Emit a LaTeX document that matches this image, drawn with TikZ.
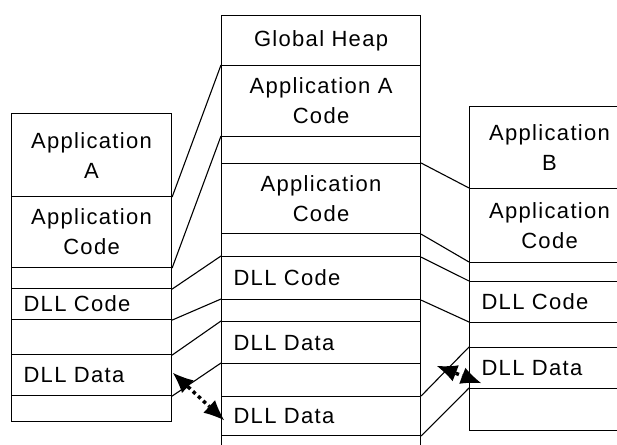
\documentclass[tikz,border=0pt]{standalone}
\usepackage{fontspec}
\setmainfont{Liberation Sans}[LetterSpace=6]
\usetikzlibrary{arrows.meta,calc}

\tikzset{
  seg/.style={draw=black, line width=1.1pt, rectangle, anchor=north west,
    inner sep=0pt, align=center, font=\fontsize{22}{30}\selectfont},
  segl/.style={seg, align=left, inner xsep=12pt},
  link/.style={draw=black, line width=1.1pt},
  dotarrow/.style={line width=3.5pt, dash pattern=on 3.5pt off 3.5pt,
    {Latex[length=20pt,width=17pt,line width=0pt]}-{Latex[length=20pt,width=17pt,line width=0pt]}}
}

\begin{document}
\begin{tikzpicture}[x=1pt,y=-1pt]
  \fill[white] (0,0) rectangle (617,444);
  \path[use as bounding box, clip] (0,0) rectangle (617,444);

  % Application A address space
  \node[seg, minimum width=160pt, minimum height=83pt, text width=160pt] (la1) at (11,113) {Application\\A};
  \node[seg, minimum width=160pt, minimum height=71pt, text width=160pt] (la2) at (11,196) {Application\\Code};
  \node[seg, minimum width=160pt, minimum height=21pt] (la3) at (11,267) {};
  \node[segl, minimum width=160pt, minimum height=31pt, text width=136pt] (la4) at (11,288) {DLL Code};
  \node[seg, minimum width=160pt, minimum height=35pt] (la5) at (11,319) {};
  \node[segl, minimum width=160pt, minimum height=41pt, text width=136pt] (la6) at (11,354) {DLL Data};
  \node[seg, minimum width=160pt, minimum height=26pt] (la7) at (11,395) {};

  % Global heap
  \node[seg, minimum width=199pt, minimum height=50pt, text width=199pt] (m1) at (221,15) {Global Heap};
  \node[seg, minimum width=199pt, minimum height=71pt, text width=199pt] (m2) at (221,65) {Application A\\Code};
  \node[seg, minimum width=199pt, minimum height=27pt] (m3) at (221,136) {};
  \node[seg, minimum width=199pt, minimum height=70pt, text width=199pt] (m4) at (221,163) {Application\\Code};
  \node[seg, minimum width=199pt, minimum height=23pt] (m5) at (221,233) {};
  \node[segl, minimum width=199pt, minimum height=43pt, text width=175pt] (m6) at (221,256) {DLL Code};
  \node[seg, minimum width=199pt, minimum height=22pt] (m7) at (221,299) {};
  \node[segl, minimum width=199pt, minimum height=42pt, text width=175pt] (m8) at (221,321) {DLL Data};
  \node[seg, minimum width=199pt, minimum height=33pt] (m9) at (221,363) {};
  \node[segl, minimum width=199pt, minimum height=39pt, text width=175pt] (m10) at (221,396) {DLL Data};
  \node[seg, minimum width=199pt, minimum height=30pt] (m11) at (221,435) {};

  % Application B address space
  \node[seg, minimum width=160pt, minimum height=82pt, text width=160pt] (rb1) at (469,106) {Application\\B};
  \node[seg, minimum width=160pt, minimum height=74pt, text width=160pt] (rb2) at (469,188) {Application\\Code};
  \node[seg, minimum width=160pt, minimum height=19pt] (rb3) at (469,262) {};
  \node[segl, minimum width=160pt, minimum height=41pt, text width=136pt] (rb4) at (469,281) {DLL Code};
  \node[seg, minimum width=160pt, minimum height=25pt] (rb5) at (469,322) {};
  \node[segl, minimum width=160pt, minimum height=41pt, text width=136pt] (rb6) at (469,347) {DLL Data};
  \node[seg, minimum width=160pt, minimum height=42pt] (rb7) at (469,388) {};

  % mappings from Application A into the heap
  \draw[link] (la1.south east) -- (m2.north west);
  \draw[link] (la2.south east) -- (m3.north west);
  \draw[link] (la3.south east) -- (m6.north west);
  \draw[link] (la4.south east) -- (m7.north west);
  \draw[link] (la5.south east) -- (m8.north west);
  \draw[link] (la6.south east) -- (m9.north west);

  % mappings from the heap into Application B
  \draw[link] (m4.north east) -- (rb2.north west);
  \draw[link] (m4.south east) -- (rb3.north west);
  \draw[link] (m5.south east) -- (rb4.north west);
  \draw[link] (m6.south east) -- (rb5.north west);
  \draw[link] (m10.north east) -- (rb6.north west);
  \draw[link] (m10.south east) -- (rb7.north west);

  % per-process DLL data copies
  \coordinate (pa) at ($(la6.east)+(1,-2)$);
  \coordinate (pb) at ($(m10.west)+(3,4)$);
  \draw[dotarrow] (pa) -- (pb);
  \coordinate (qa) at (437,366);
  \coordinate (qb) at ($(rb6.west)+(12,15)$);
  \draw[dotarrow] (qa) -- (qb);
\end{tikzpicture}
\end{document}
